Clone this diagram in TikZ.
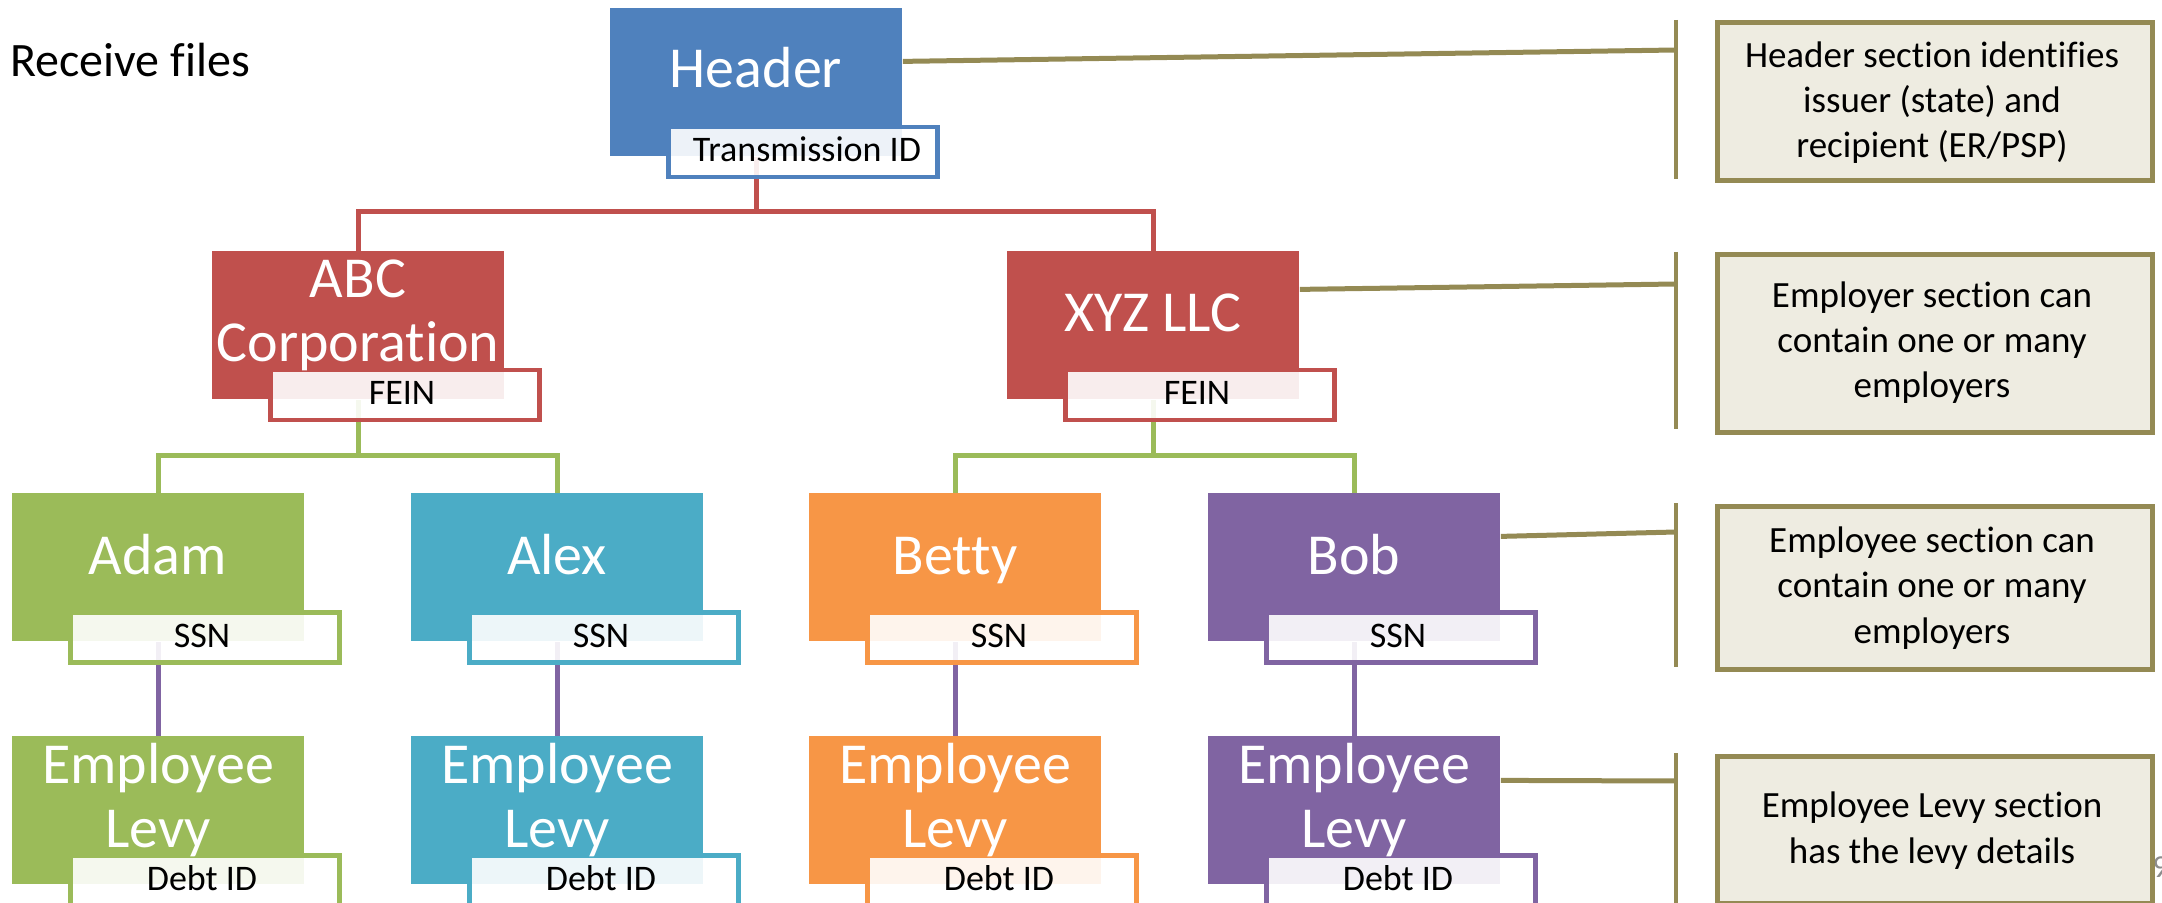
\documentclass[tikz,border=0pt]{standalone}
\usepackage{fontspec}
\setmainfont{Carlito}[Ligatures=NoCommon]
\definecolor{cblue}{HTML}{4F81BD}
\definecolor{cred}{HTML}{C0504D}
\definecolor{cgreen}{HTML}{9BBB59}
\definecolor{caqua}{HTML}{4BACC6}
\definecolor{corange}{HTML}{F79646}
\definecolor{cpurple}{HTML}{8064A2}
\definecolor{colive}{HTML}{948A54}
\definecolor{sidefill}{HTML}{EEECE1}
\definecolor{numgray}{HTML}{8C8C8C}
\begin{document}
\begin{tikzpicture}[x=0.5pt,y=-0.5pt,
  mainbox/.style={fill=#1,draw=none,minimum width=146pt,minimum height=74pt,inner sep=0pt,anchor=north west},
  lblbox/.style={draw=#1,line width=2.25pt,fill=white,fill opacity=0.9,minimum width=134.5pt,minimum height=25pt,inner sep=0pt,anchor=north west},
  bigtxt/.style={text=white,font=\fontsize{29}{32}\selectfont,align=center,anchor=base,inner sep=0pt},
  lbltxt/.style={text=black,font=\fontsize{18}{22}\selectfont,anchor=base,inner sep=0pt},
  sidebox/.style={draw=colive,fill=sidefill,line width=2.5pt,minimum width=217.5pt,inner sep=0pt,anchor=north west},
  sidetxt/.style={text=black,font=\fontsize{18.5}{22.7}\selectfont,align=center,anchor=base,inner sep=0pt},
  conn/.style={draw=#1,line width=2.5pt},
  sideline/.style={draw=colive,line width=2.5pt},
  bracket/.style={draw=colive,line width=2.25pt}]
\useasboundingbox (0,0) rectangle (2162,903);
% title
\node[anchor=base west,inner sep=0pt,font=\fontsize{24}{28}\selectfont] (title) at (10,77) {Receive files};
% slide number (clipped)
\node[anchor=base west,inner sep=0pt,text=numgray,font=\fontsize{16}{18}\selectfont] (pgnum) at (2152,877) {9};
% main boxes
\node[mainbox=cblue] (hdr) at (610,8) {};
\node[mainbox=cred] (abc) at (212,251) {};
\node[mainbox=cred] (xyz) at (1007,251) {};
\node[mainbox=cgreen] (adam) at (12,493) {};
\node[mainbox=caqua] (alex) at (411,493) {};
\node[mainbox=corange] (betty) at (809,493) {};
\node[mainbox=cpurple] (bob) at (1208,493) {};
\node[mainbox=cgreen] (lvA) at (12,736) {};
\node[mainbox=caqua] (lvB) at (411,736) {};
\node[mainbox=corange] (lvC) at (809,736) {};
\node[mainbox=cpurple] (lvD) at (1208,736) {};
% tree connectors
\draw[conn=cred] (hdr.south) -- (hdr.south |- 0,212);
\draw[conn=cred] (abc.north) |- (xyz.north |- 0,212) -- (xyz.north);
\draw[conn=cgreen] (abc.south) -- (abc.south |- 0,455);
\draw[conn=cgreen] (adam.north) |- (alex.north |- 0,455) -- (alex.north);
\draw[conn=cgreen] (xyz.south) -- (xyz.south |- 0,455);
\draw[conn=cgreen] (betty.north) |- (bob.north |- 0,455) -- (bob.north);
\draw[conn=cpurple] (adam.south) -- (lvA.north);
\draw[conn=cpurple] (alex.south) -- (lvB.north);
\draw[conn=cpurple] (betty.south) -- (lvC.north);
\draw[conn=cpurple] (bob.south) -- (lvD.north);
% label boxes
\node[lblbox=cblue] (hdrL) at (666,125) {};
\node[lblbox=cred] (abcL) at (268,368) {};
\node[lblbox=cred] (xyzL) at (1063,368) {};
\node[lblbox=cgreen] (adamL) at (68,610) {};
\node[lblbox=caqua] (alexL) at (467,610) {};
\node[lblbox=corange] (bettyL) at (865,610) {};
\node[lblbox=cpurple] (bobL) at (1264,610) {};
\node[lblbox=cgreen] (lvAL) at (68,853) {};
\node[lblbox=caqua] (lvBL) at (467,853) {};
\node[lblbox=corange] (lvCL) at (865,853) {};
\node[lblbox=cpurple] (lvDL) at (1264,853) {};
% main texts (base = last line)
\node[bigtxt] (hdrT) at (756,88) {Header};
\node[bigtxt] (abcT) at (358,362) {ABC\\Corporation};
\node[bigtxt] (xyzT) at (1153,332) {XYZ LLC};
\node[bigtxt] (adamT) at (158,574) {Adam};
\node[bigtxt] (alexT) at (557,574) {Alex};
\node[bigtxt] (bettyT) at (955,574) {Betty};
\node[bigtxt] (bobT) at (1354,574) {Bob};
\node[bigtxt] (lvAT) at (158,847) {Employee\\Levy};
\node[bigtxt] (lvBT) at (557,847) {Employee\\Levy};
\node[bigtxt] (lvCT) at (955,847) {Employee\\Levy};
\node[bigtxt] (lvDT) at (1354,847) {Employee\\Levy};
% label texts
\node[lbltxt] (hdrLT) at (807,162) {Transmission ID};
\node[lbltxt] (abcLT) at (402,405) {FEIN};
\node[lbltxt] (xyzLT) at (1197,405) {FEIN};
\node[lbltxt] (adamLT) at (202,647) {SSN};
\node[lbltxt] (alexLT) at (601,647) {SSN};
\node[lbltxt] (bettyLT) at (999,647) {SSN};
\node[lbltxt] (bobLT) at (1398,647) {SSN};
\node[lbltxt] (lvALT) at (202,890) {Debt ID};
\node[lbltxt] (lvBLT) at (601,890) {Debt ID};
\node[lbltxt] (lvCLT) at (999,890) {Debt ID};
\node[lbltxt] (lvDLT) at (1398,890) {Debt ID};
% side brackets and connectors
\coordinate (k1) at (1676,50);
\coordinate (k2) at (1676,284);
\coordinate (k3) at (1676,532);
\coordinate (k4) at (1676,781);
\coordinate (b1t) at (1676,20);  \coordinate (b1b) at (1676,179);
\coordinate (b2t) at (1676,252); \coordinate (b2b) at (1676,429);
\coordinate (b3t) at (1676,503); \coordinate (b3b) at (1676,667);
\coordinate (b4t) at (1676,753); \coordinate (b4b) at (1676,910);
\draw[sideline] ([yshift=10.5pt]hdr.east) -- (k1);
\draw[sideline] ([yshift=18pt]xyz.east) -- (k2);
\draw[sideline] ([yshift=15.5pt]bob.east) -- (k3);
\draw[sideline] ([yshift=15pt]lvD.east) -- (k4);
\draw[bracket] (b1t) -- (b1b);
\draw[bracket] (b2t) -- (b2b);
\draw[bracket] (b3t) -- (b3b);
\draw[bracket] (b4t) -- (b4b);
% side boxes
\node[sidebox,minimum height=79pt] (s1) at (1714.5,20.5) {};
\node[sidebox,minimum height=88.5pt] (s2) at (1714.5,252.5) {};
\node[sidebox,minimum height=81.5pt] (s3) at (1714.5,503.5) {};
\node[sidebox,minimum height=73.5pt] (s4) at (1714.5,753.5) {};
\node[sidetxt] (s1T) at (1932,158) {Header section identifies\\issuer (state) and\\recipient (ER/PSP)};
\node[sidetxt] (s2T) at (1932,398) {Employer section can\\contain one or many\\employers};
\node[sidetxt] (s3T) at (1932,643) {Employee section can\\contain one or many\\employers};
\node[sidetxt] (s4T) at (1932,863) {Employee Levy section\\has the levy details};
\end{tikzpicture}
\end{document}
